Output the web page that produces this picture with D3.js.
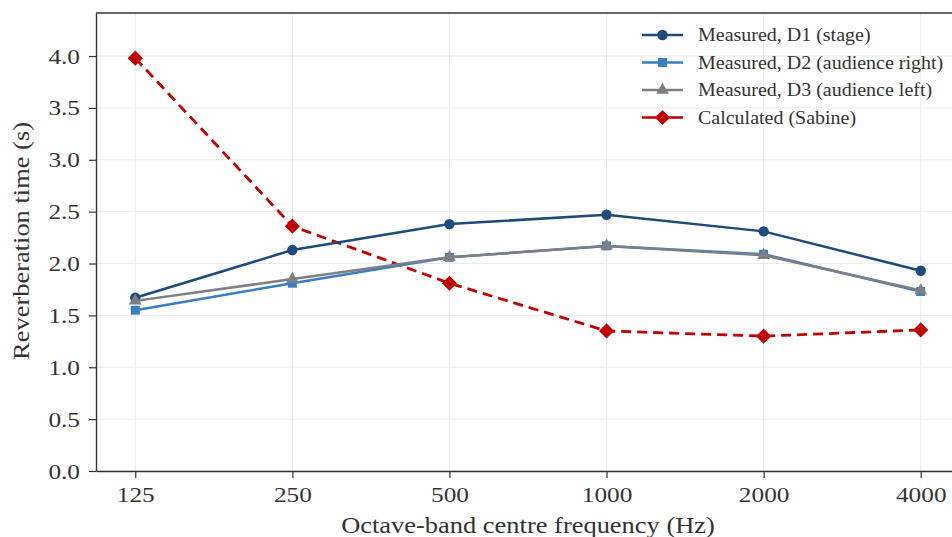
<!DOCTYPE html>
<html>
<head>
<meta charset="utf-8">
<script src="https://d3js.org/d3.v7.min.js"></script>
<style>
  body { margin: 0; background: #fff; }
  svg { display: block; font-family: "Liberation Serif", "DejaVu Serif", serif; }
</style>
</head>
<body>
<div class="chart-container"></div>
<script>
// frequency bands and reverberation times (s)
const bands = ["125", "250", "500", "1000", "2000", "4000"];
const d1 = [1.67, 2.13, 2.38, 2.47, 2.31, 1.93];
const d2 = [1.55, 1.81, 2.06, 2.17, 2.09, 1.73];
const d3v = [1.64, 1.85, 2.06, 2.17, 2.08, 1.74];
const sabine = [3.98, 2.36, 1.81, 1.35, 1.30, 1.36];
const yTicks = [0.0, 0.5, 1.0, 1.5, 2.0, 2.5, 3.0, 3.5, 4.0];

const series = [
  {name: "Measured, D1 (stage)", values: d1, color: "#1f4a7c", marker: "circle", dash: null},
  {name: "Measured, D2 (audience right)", values: d2, color: "#3a7ec2", marker: "square", dash: null},
  {name: "Measured, D3 (audience left)", values: d3v, color: "#7c7f86", marker: "triangle", dash: null},
  {name: "Calculated (Sabine)", values: sabine, color: "#c00000", marker: "diamond", dash: "10,6"}
];

// the reference font runs a bit wider than Liberation Serif, so widen the glyphs
function widen(sel, k) {
  sel.each(function() {
    const len = this.getComputedTextLength();
    d3.select(this).attr("textLength", len * k).attr("lengthAdjust", "spacingAndGlyphs");
  });
}

function drawChart() {
  const W = 952, H = 537;
  const margin = {top: 13, right: -8, bottom: 66, left: 96},
      width = W - margin.left - margin.right,
      height = H - margin.top - margin.bottom;

  const svg = d3.select(".chart-container")
    .append("svg")
    .attr("width", W)
    .attr("height", H);

  const g = svg.append("g")
    .attr("transform", `translate(${margin.left},${margin.top})`);

  const x = d3.scalePoint()
    .domain(bands)
    .range([0, width])
    .padding(0.25);

  const y = d3.scaleLinear()
    .domain([0, 4.415])
    .range([height, 0]);

  // grid
  g.append("g").selectAll("line")
    .data(yTicks)
    .enter().append("line")
    .attr("x1", 0).attr("x2", width)
    .attr("y1", d => y(d)).attr("y2", d => y(d))
    .attr("stroke", "#ebebeb").attr("stroke-width", 1);
  g.append("g").selectAll("line")
    .data(bands)
    .enter().append("line")
    .attr("x1", d => x(d)).attr("x2", d => x(d))
    .attr("y1", 0).attr("y2", height)
    .attr("stroke", "#ebebeb").attr("stroke-width", 1);

  // axes
  const xAxis = g.append("g")
    .attr("transform", `translate(0,${height})`)
    .call(d3.axisBottom(x).tickSizeInner(7).tickSizeOuter(0).tickPadding(8));
  const yAxis = g.append("g")
    .call(d3.axisLeft(y).tickValues(yTicks).tickFormat(d3.format(".1f")).tickSizeInner(7).tickSizeOuter(0).tickPadding(9));
  [xAxis, yAxis].forEach(a => {
    a.selectAll("text").attr("font-size", 22).attr("fill", "#333").attr("font-family", "Liberation Serif, serif");
    a.selectAll("line").attr("stroke", "#333").attr("stroke-width", 1.2);
    a.select(".domain").attr("stroke", "#333").attr("stroke-width", 1.4);
    widen(a.selectAll("text"), 1.15);
  });
  // top spine
  g.append("line")
    .attr("x1", 0).attr("x2", width).attr("y1", 0).attr("y2", 0)
    .attr("stroke", "#333").attr("stroke-width", 1.4);

  // axis labels
  const xl = svg.append("text")
    .attr("x", 528).attr("y", 533)
    .attr("text-anchor", "middle")
    .attr("font-size", 23).attr("fill", "#333")
    .text("Octave-band centre frequency (Hz)");
  const yl = svg.append("text")
    .attr("transform", "translate(29,241) rotate(-90)")
    .attr("text-anchor", "middle")
    .attr("font-size", 23).attr("fill", "#333")
    .text("Reverberation time (s)");
  widen(xl, 1.15);
  widen(yl, 1.15);

  // diamonds are squares turned 45 degrees (equal width and height)
  const symbols = {
    circle: {d: d3.symbol().type(d3.symbolCircle).size(85), rot: 0},
    square: {d: d3.symbol().type(d3.symbolSquare).size(80), rot: 0},
    triangle: {d: d3.symbol().type(d3.symbolTriangle).size(70), rot: 0},
    diamond: {d: d3.symbol().type(d3.symbolSquare).size(115), rot: 45}
  };

  const line = d3.line()
    .x((d, i) => x(bands[i]))
    .y(d => y(d));

  const draw = [series[3], series[0], series[1], series[2]];
  draw.forEach(s => {
    const sym = symbols[s.marker];
    g.append("path")
      .datum(s.values)
      .attr("fill", "none")
      .attr("stroke", s.color)
      .attr("stroke-width", s.dash ? 2.8 : 2.5)
      .attr("stroke-dasharray", s.dash)
      .attr("d", line);
    g.selectAll(null)
      .data(s.values)
      .enter().append("path")
      .attr("transform", (d, i) => `translate(${x(bands[i])},${y(d)}) rotate(${sym.rot})`)
      .attr("d", sym.d)
      .attr("fill", s.color);
  });

  // legend
  const legend = svg.append("g").attr("transform", "translate(642,35)");
  series.forEach((s, i) => {
    const sym = symbols[s.marker];
    const row = legend.append("g").attr("transform", `translate(0,${i * 27.5})`);
    row.append("line")
      .attr("x1", 0).attr("x2", 41).attr("y1", 0).attr("y2", 0)
      .attr("stroke", s.color).attr("stroke-width", 2.5);
    row.append("path")
      .attr("transform", `translate(20.5,0) rotate(${sym.rot})`)
      .attr("d", sym.d)
      .attr("fill", s.color);
    const t = row.append("text")
      .attr("x", 56).attr("y", 6)
      .attr("font-size", 18).attr("fill", "#333")
      .text(s.name);
    widen(t, 1.11);
  });
}

drawChart();
</script>
</body>
</html>
